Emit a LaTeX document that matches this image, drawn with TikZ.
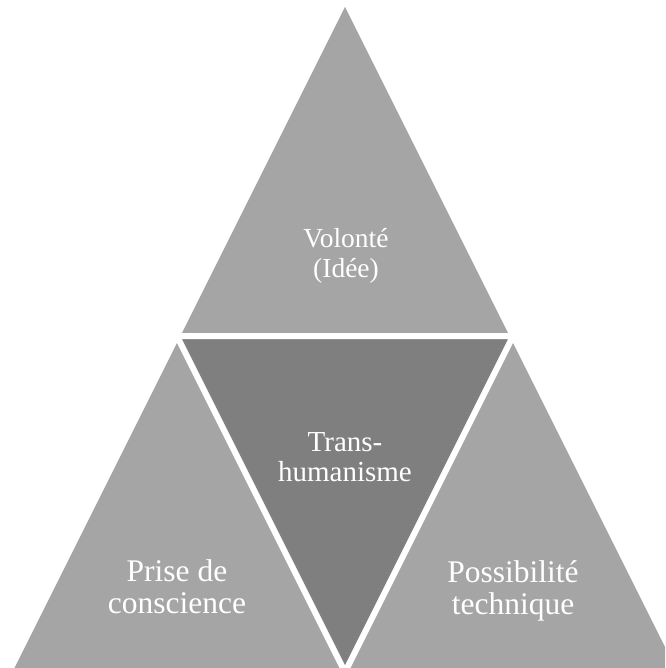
\documentclass[tikz,border=0pt]{standalone}
\usepackage{fontspec}
\setmainfont{Liberation Serif}
\definecolor{sidegray}{HTML}{A5A5A5}
\definecolor{coregray}{HTML}{7F7F7F}

\begin{document}
\begin{tikzpicture}[x=1pt, y=-1pt,
    segment/.style={draw=white, line width=6pt, line join=miter},
    segtext/.style={text=white, align=center, inner sep=0pt}]
                \useasboundingbox (0, 0) rectangle (665, 668);
                \clip (0, 0) rectangle (665, 668);
                % corners of the big triangle and the middles of its sides
                \coordinate (apex) at (345, 0);
                \coordinate (baseleft) at (9, 672);
                \coordinate (baseright) at (681, 672);
                \coordinate (midleft) at (177, 336);
                \coordinate (midright) at (513, 336);
                \coordinate (midbase) at (345, 672);
                \filldraw [segment, fill=sidegray] (apex) -- (midleft) -- (midright) -- cycle;
                \filldraw [segment, fill=sidegray] (midleft) -- (baseleft) -- (midbase) -- cycle;
                \filldraw [segment, fill=sidegray] (midright) -- (midbase) -- (baseright) -- cycle;
                \filldraw [segment, fill=coregray] (midleft) -- (midright) -- (midbase) -- cycle;
                % texts
                \node [segtext, font=\fontsize{27.5}{30}\selectfont] (will) at (346, 255.5) {Volonté\\(Idée)};
                \node [segtext, font=\fontsize{29}{29.5}\selectfont] (trans) at (345, 457) {Trans-\\humanisme};
                \node [segtext, font=\fontsize{31.5}{32}\selectfont] (aware) at (177, 587) {Prise de\\conscience};
                \node [segtext, font=\fontsize{31.5}{32}\selectfont] (tech) at (513, 590.5) {Possibilité\\technique};
            \end{tikzpicture}
\end{document}
